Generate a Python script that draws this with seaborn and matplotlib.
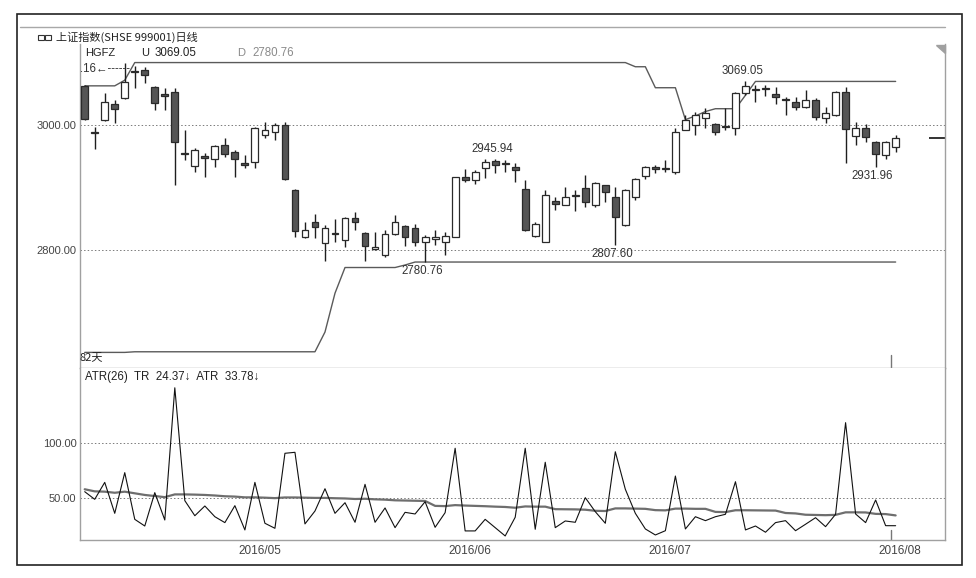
import matplotlib
matplotlib.use("Agg")
import matplotlib.pyplot as plt
import numpy as np
import pandas as pd
import seaborn as sns
from matplotlib.patches import Rectangle, Polygon
from matplotlib.lines import Line2D

# ---------------- data ----------------
opens = [3061, 2989, 3007.5, 3033, 3042.7, 3086, 3088, 3060, 3049, 3052,
         2955, 2934, 2950, 2945, 2968, 2956, 2939, 2941, 2983, 2988,
         3000, 2896, 2821, 2844, 2811, 2827, 2816, 2851, 2827, 2801,
         2792, 2826, 2838, 2835, 2812, 2818, 2813, 2821, 2917, 2911,
         2931, 2942, 2937, 2932, 2897, 2823, 2813, 2878, 2872, 2886,
         2899, 2872, 2903, 2884, 2840, 2884, 2918, 2932, 2930, 2924,
         2992, 3000, 3011, 3001, 2997, 2994, 3051, 3056, 3057, 3049,
         3041, 3036, 3028, 3040, 3010, 3015, 3052, 2982, 2994, 2973,
         2952, 2964]
highs = [3063, 2997, 3051, 3040, 3099.16, 3093, 3092, 3061, 3059, 3058,
         2992, 2963, 2955, 2968, 2979, 2960, 2952, 2997, 3005, 3003,
         3005, 2897, 2845, 2857, 2840, 2849, 2853, 2860, 2829, 2829,
         2832, 2856, 2840, 2842, 2824, 2832, 2829, 2917, 2929, 2928,
         2945, 2945.94, 2944, 2939, 2912, 2844, 2895, 2885, 2900, 2896,
         2920, 2908, 2904, 2900, 2897, 2915, 2934, 2936, 2944, 2995,
         3016, 3021, 3027, 3003, 3027, 3052, 3069.05, 3064, 3064, 3060,
         3044, 3044, 3056, 3043, 3029, 3053, 3060, 3004, 3001, 2974,
         2974, 2983]
lows = [3007, 2961, 3006, 3002, 3041, 3059, 3067, 3024, 3024, 2904,
        2944, 2925, 2917, 2933, 2949, 2916, 2931, 2931, 2979, 2976,
        2912, 2821, 2819, 2819, 2782, 2812, 2804, 2832, 2783, 2800,
        2788, 2824, 2806, 2806, 2780.76, 2808, 2792, 2820, 2908, 2906,
        2915, 2923, 2925, 2909, 2831, 2820, 2812, 2864, 2872, 2862,
        2869, 2869, 2877, 2807.60, 2839, 2880, 2914, 2923, 2925, 2922,
        2991, 2984, 2995, 2984, 2992, 2984, 3048, 3037, 3045, 3033,
        3015, 3024, 3027, 3008, 3003, 3014, 2939, 2968, 2972, 2931.96,
        2946, 2956]
closes = [3009, 2986, 3035.7, 3025, 3067.7, 3084, 3080, 3034, 3045, 2972,
          2954, 2959.5, 2947, 2966, 2954, 2945, 2935, 2994, 2991.5, 2999,
          2913, 2831, 2832, 2836, 2835, 2826, 2851, 2844, 2807, 2805,
          2825, 2844, 2821, 2813, 2821, 2820, 2822, 2916, 2912, 2925,
          2940, 2935, 2938, 2928, 2832, 2842, 2887, 2873, 2885, 2887,
          2877, 2907, 2892, 2853, 2896, 2913, 2932, 2929, 2931, 2988,
          3007, 3016, 3019, 2989, 2996, 3051, 3061, 3057, 3057.5, 3044,
          3040, 3029, 3040, 3013, 3018, 3052, 2993, 2995, 2980, 2954,
          2972, 2979]

hgfz_upper = [3062, 3062, 3062, 3062, 3071, 3099.16, 3099.16, 3099.16, 3099.16, 3099.16,
              3099.16, 3099.16, 3099.16, 3099.16, 3099.16, 3099.16, 3099.16, 3099.16, 3099.16, 3099.16,
              3099.16, 3099.16, 3099.16, 3099.16, 3099.16, 3099.16, 3099.16, 3099.16, 3099.16, 3099.16,
              3099.16, 3099.16, 3099.16, 3099.16, 3099.16, 3099.16, 3099.16, 3099.16, 3099.16, 3099.16,
              3099.16, 3099.16, 3099.16, 3099.16, 3099.16, 3099.16, 3099.16, 3099.16, 3099.16, 3099.16,
              3099.16, 3099.16, 3099.16, 3099.16, 3099.16, 3092.5, 3092.5, 3059, 3059, 3059,
              3008, 3014, 3021, 3025.5, 3025.5, 3025.5, 3047, 3069.05, 3069.05, 3069.05,
              3069.05, 3069.05, 3069.05, 3069.05, 3069.05, 3069.05, 3069.05, 3069.05, 3069.05, 3069.05,
              3069.05, 3069.05]
hgfz_lower = [2636.5, 2636.5, 2636.5, 2636.5, 2636.5, 2637.5, 2637.5, 2637.5, 2637.5, 2637.5,
              2637.5, 2637.5, 2637.5, 2637.5, 2637.5, 2637.5, 2637.5, 2637.5, 2637.5, 2637.5,
              2637.5, 2637.5, 2637.5, 2637.5, 2669, 2731, 2772, 2772, 2772, 2772,
              2772, 2772, 2776, 2780.76, 2780.76, 2780.76, 2780.76, 2780.76, 2780.76, 2780.76,
              2780.76, 2780.76, 2780.76, 2780.76, 2780.76, 2780.76, 2780.76, 2780.76, 2780.76, 2780.76,
              2780.76, 2780.76, 2780.76, 2780.76, 2780.76, 2780.76, 2780.76, 2780.76, 2780.76, 2780.76,
              2780.76, 2780.76, 2780.76, 2780.76, 2780.76, 2780.76, 2780.76, 2780.76, 2780.76, 2780.76,
              2780.76, 2780.76, 2780.76, 2780.76, 2780.76, 2780.76, 2780.76, 2780.76, 2780.76, 2780.76,
              2780.76, 2780.76]

tr_values = [55.5, 48.5, 64.0, 35.7, 72.9, 30.2, 24.1, 54.6, 29.6, 150.5,
             47.3, 33.5, 42.4, 32.6, 27.2, 42.7, 20.5, 64.0, 26.6, 22.0,
             90.6, 91.5, 26.0, 37.8, 58.2, 35.7, 45.4, 27.5, 62.2, 27.5,
             40.6, 22.6, 36.6, 35.1, 46.3, 22.9, 36.3, 95.2, 19.6, 19.6,
             30.2, 22.6, 15.0, 32.1, 95.2, 21.1, 82.4, 22.6, 28.7, 27.5,
             50.0, 37.2, 26.6, 92.0, 57.7, 35.7, 21.4, 15.9, 19.8, 69.8,
             21.4, 32.6, 29.0, 32.6, 34.8, 64.6, 20.5, 24.1, 18.4, 27.2,
             29.0, 19.8, 25.7, 31.7, 23.5, 34.8, 118.6, 35.1, 27.2, 47.9,
             24.4, 24.37]
atr_values = [57.7, 55.8, 55.5, 54.5, 55.5, 54.0, 52.5, 51.5, 50.5, 53.0,
              53.0, 52.8, 52.5, 52.0, 51.3, 51.0, 50.3, 50.3, 50.0, 49.6,
              50.2, 50.2, 50.0, 49.8, 49.8, 49.5, 49.3, 48.8, 49.0, 48.5,
              48.2, 47.6, 47.4, 47.2, 47.0, 42.5, 42.3, 43.2, 42.8, 42.5,
              42.2, 41.8, 41.5, 40.8, 42.0, 41.8, 41.8, 39.5, 39.4, 39.3,
              39.0, 38.0, 37.8, 40.2, 40.2, 40.0, 39.8, 38.6, 38.4, 40.0,
              40.0, 39.8, 39.8, 37.0, 36.8, 38.5, 38.5, 38.4, 38.3, 38.2,
              36.0, 35.6, 34.4, 34.2, 34.0, 34.3, 36.6, 36.6, 36.5, 35.2,
              35.0, 33.78]

date_labels = ["2016/05", "2016/06", "2016/07", "2016/08"]
date_label_pos = [17.5, 38.5, 58.4, 81.4]
price_ticks = [2800, 3000]
atr_ticks = [50, 100]

# ---------------- figure ----------------
W, H = 976, 578
sns.set_theme(style="white")
plt.rcParams["font.family"] = ["Liberation Sans", "DejaVu Sans"]
CJK = ["Noto Sans CJK SC", "DejaVu Sans"]

fig = plt.figure(figsize=(W / 100, H / 100), dpi=100)
fig.patch.set_facecolor("white")


def fx(x):
    return x / W


def fy(y):
    return 1 - y / H


ax = fig.add_axes([fx(80), fy(368), 865 / W, 324 / H])
ax2 = fig.add_axes([fx(80), fy(540), 865 / W, 172 / H])

n = len(closes)
idx = np.arange(n)
df = pd.DataFrame({"i": idx, "open": opens, "high": highs, "low": lows,
                   "close": closes, "tr": tr_values, "atr": atr_values,
                   "up": hgfz_upper, "down": hgfz_lower})

XMIN, XMAX = -0.47, 85.93
grid_kw = dict(color="#7a7a7a", lw=0.7, ls=(0, (1.5, 2.2)), zorder=0)

# ---- price panel ----
for v in price_ticks:
    ax.axhline(v, **grid_kw)

ax.vlines(df["i"], df["low"], df["high"], color="#1e1e1e", lw=1.0, zorder=2)
body_lo = np.minimum(df["open"], df["close"])
body_h = np.maximum(np.abs(df["close"] - df["open"]), 1.2)
fills = np.where(df["close"] > df["open"], "white", "#555555")
ax.bar(df["i"], body_h, bottom=body_lo, width=0.68, color=fills,
       edgecolor="#2a2a2a", linewidth=0.9, zorder=3)

sns.lineplot(data=df, x="i", y="up", ax=ax, color="#5a5a5a", lw=1.0,
             legend=False, zorder=1)
sns.lineplot(data=df, x="i", y="down", ax=ax, color="#5a5a5a", lw=1.0,
             legend=False, zorder=1)

# last price marker at the right edge
ax.hlines(closes[-1], 84.3, XMAX, color="#111111", lw=1.2)

# extreme labels
def lab(i, val, above):
    ax.annotate(f"{val:.2f}", (i - 0.3, val), xytext=(0, 4 if above else -3),
                textcoords="offset pixels", ha="center",
                va="bottom" if above else "top", fontsize=8.3, color="#333333")

lab(66, highs[66], True)
lab(41, highs[41], True)
lab(53, lows[53], False)
lab(34, lows[34], False)
lab(79, lows[79], False)

ax.set_xlim(XMIN, XMAX)
ax.set_ylim(2611.6, 3128.8)
ax.set_yticks(price_ticks)
ax.set_yticklabels([f"{v:.2f}" for v in price_ticks])
ax.set_xticks([])
ax.tick_params(axis="y", length=0, pad=2.5, labelsize=8, labelcolor="#444444")
ax.set_xlabel("")
ax.set_ylabel("")
ax.axvline(80.5, ymin=0, ymax=0.04, color="#777777", lw=1)
for s in ["left", "right", "bottom"]:
    ax.spines[s].set_color("#a0a0a0")
    ax.spines[s].set_linewidth(1)
ax.spines["top"].set_visible(False)

# ---- ATR panel ----
for v in atr_ticks:
    ax2.axhline(v, **grid_kw)
sns.lineplot(data=df, x="i", y="atr", ax=ax2, color="#6e6e6e", lw=1.6,
             legend=False)
sns.lineplot(data=df, x="i", y="tr", ax=ax2, color="#111111", lw=0.8,
             legend=False)
ax2.set_xlim(XMIN, XMAX)
ax2.set_ylim(11.3, 168.6)
ax2.set_yticks(atr_ticks)
ax2.set_yticklabels([f"{v:.2f}" for v in atr_ticks])
ax2.set_xticks(date_label_pos)
ax2.set_xticklabels(date_labels)
ax2.tick_params(axis="y", length=0, pad=2.5, labelsize=8, labelcolor="#444444")
ax2.tick_params(axis="x", length=0, pad=3.5, labelsize=8.5, labelcolor="#444444")
ax2.set_xlabel("")
ax2.set_ylabel("")
ax2.axvline(80.5, ymin=0, ymax=0.06, color="#777777", lw=1)
for s in ["left", "right", "bottom"]:
    ax2.spines[s].set_color("#a0a0a0")
    ax2.spines[s].set_linewidth(1)
ax2.spines["top"].set_visible(False)

# ---- frames and header texts ----
fig.add_artist(Rectangle((fx(17), fy(565)), 945 / W, 551 / H, fill=False,
                         edgecolor="#222222", lw=1.2, transform=fig.transFigure))
fig.add_artist(Line2D([fx(20), fx(945)], [fy(27), fy(27)], color="#a8a8a8",
                      lw=1.0, transform=fig.transFigure))
# link icon
fig.add_artist(Rectangle((fx(38), fy(40)), 6 / W, 5 / H, fill=False,
                         edgecolor="#333333", lw=0.8, transform=fig.transFigure))
fig.add_artist(Rectangle((fx(45), fy(40)), 6 / W, 5 / H, fill=False,
                         edgecolor="#333333", lw=0.8, transform=fig.transFigure))
# corner triangle
fig.add_artist(Polygon([(fx(936), fy(45)), (fx(945), fy(45)), (fx(945), fy(53))],
                       closed=True, color="#a0a0a0", transform=fig.transFigure))

fig.text(fx(56), fy(37), "上证指数(SHSE 999001)日线", family=CJK, fontsize=8,
         color="#222222", va="center", ha="left")
fig.text(fx(85), fy(53), "HGFZ", fontsize=8, color="#222222", va="center")
fig.text(fx(141), fy(53), "U", fontsize=8, color="#222222", va="center")
fig.text(fx(155), fy(53), "3069.05", fontsize=8.3, color="#222222", va="center")
fig.text(fx(237), fy(53), "D", fontsize=8, color="#8a8a8a", va="center")
fig.text(fx(252), fy(53), "2780.76", fontsize=8.3, color="#8a8a8a", va="center")
fig.text(fx(80), fy(69), ".16\u2190------", fontsize=8.3, color="#333333",
         va="center")
fig.text(fx(80), fy(358), "82天", family=CJK, fontsize=8, color="#222222",
         va="center")
fig.text(fx(85), fy(377), "ATR(26)  TR  24.37\u2193  ATR  33.78\u2193",
         fontsize=8.3, color="#222222", va="center")

fig.savefig("out.png", dpi=100, facecolor="white")
